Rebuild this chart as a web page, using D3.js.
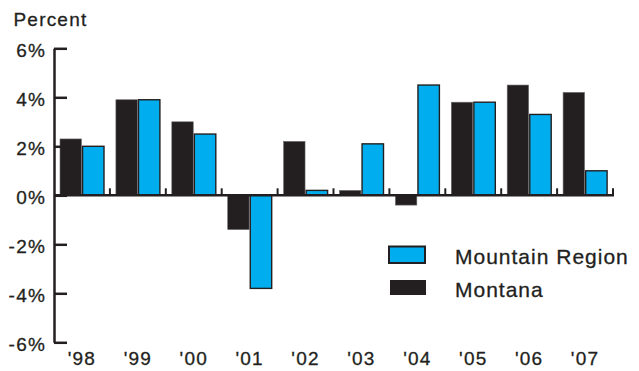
<!DOCTYPE html>
<html>
<head>
<meta charset="utf-8">
<script src="https://cdn.jsdelivr.net/npm/d3@7"></script>
<style>
  html, body { margin: 0; padding: 0; background: #fff; }
  svg text { font-family: "Liberation Sans", Arial, Helvetica, sans-serif; fill: #231f20; stroke: #231f20; stroke-width: 0.3px; }
</style>
</head>
<body>
<svg id="chart" width="639" height="371"></svg>
<script>
// Annual growth, percent
const years = ["'98", "'99", "'00", "'01", "'02", "'03", "'04", "'05", "'06", "'07"];
const montana = [2.3, 3.9, 3.0, -1.4, 2.2, 0.2, -0.4, 3.8, 4.5, 4.2];
const mountainRegion = [2.0, 3.9, 2.5, -3.8, 0.2, 2.1, 4.5, 3.8, 3.3, 1.0];
const seriesNames = ["Montana", "Mountain Region"];
const yTicks = [-6, -4, -2, 0, 2, 4, 6];

const dark = "#231f20";
const blue = "#00aeef";
const colors = { "Montana": dark, "Mountain Region": blue };

const svg = d3.select("#chart");
const plot = { left: 54, right: 613, top: 48.3, bottom: 342.3 };

const x0 = d3.scaleBand().domain(years).range([plot.left, plot.right]).padding(0);
const x1 = d3.scaleBand().domain(seriesNames).range([6, 50]).paddingInner(0.05).paddingOuter(0);
const y = d3.scaleLinear().domain([-6, 6]).range([plot.bottom, plot.top]);

const rows = years.map((yr, i) => ({ year: yr, values: [
  { key: "Montana", value: montana[i] },
  { key: "Mountain Region", value: mountainRegion[i] }
]}));

// bars
const groups = svg.append("g").selectAll("g").data(rows).join("g")
  .attr("transform", d => `translate(${x0(d.year)},0)`);
groups.selectAll("rect").data(d => d.values).join("rect")
  .attr("x", d => x1(d.key))
  .attr("width", x1.bandwidth())
  .attr("y", d => y(Math.max(0, d.value)))
  .attr("height", d => Math.abs(y(d.value) - y(0)))
  .attr("fill", d => colors[d.key])
  .attr("stroke", d => d.key === "Mountain Region" ? dark : "#6d6a6b")
  .attr("stroke-width", d => d.key === "Mountain Region" ? 1.4 : 0.6);

// y axis: ticks point inward
const yAxis = d3.axisLeft(y).tickValues(yTicks).tickFormat(d => d + "%")
  .tickSizeInner(-13).tickSizeOuter(0).tickPadding(8);
const gy = svg.append("g").attr("transform", `translate(${plot.left},0)`).call(yAxis);
gy.select(".domain").attr("stroke", dark).attr("stroke-width", 2.5);
gy.selectAll(".tick line").attr("stroke", dark).attr("stroke-width", 2.5);
gy.selectAll(".tick text")
  .attr("font-size", 19).attr("letter-spacing", 1.2).attr("dy", "0.42em")
  .style("font-family", "'Liberation Sans', Arial, sans-serif").attr("fill", dark);

// zero baseline with small category dividers
svg.append("line")
  .attr("x1", plot.left).attr("x2", plot.right + 1)
  .attr("y1", y(0)).attr("y2", y(0))
  .attr("stroke", dark).attr("stroke-width", 2.5);
svg.append("g").selectAll("line").data(years.slice(1).concat(["end"])).join("line")
  .attr("x1", d => d === "end" ? plot.right : x0(d))
  .attr("x2", d => d === "end" ? plot.right : x0(d))
  .attr("y1", y(0)).attr("y2", y(0) - 7)
  .attr("stroke", dark).attr("stroke-width", 2);

// x axis labels
const xAxis = d3.axisBottom(x0).tickSize(0).tickPadding(9.5);
const gx = svg.append("g").attr("transform", `translate(0,${plot.bottom})`).call(xAxis);
gx.select(".domain").remove();
gx.selectAll(".tick text")
  .attr("font-size", 19).attr("letter-spacing", 1.2)
  .style("font-family", "'Liberation Sans', Arial, sans-serif").attr("fill", dark);

// axis title
svg.append("text").attr("x", 13.5).attr("y", 26)
  .attr("font-size", 19).attr("letter-spacing", 1.2).text("Percent");

// legend
const legendItems = ["Mountain Region", "Montana"];
const lg = svg.append("g").selectAll("g").data(legendItems).join("g")
  .attr("transform", (d, i) => `translate(0,${i * 33})`);
lg.append("rect")
  .attr("x", d => d === "Mountain Region" ? 389 : 390)
  .attr("y", d => d === "Mountain Region" ? 246.5 : 247)
  .attr("width", 36)
  .attr("height", d => d === "Mountain Region" ? 16.5 : 15)
  .attr("fill", d => colors[d])
  .attr("stroke", dark)
  .attr("stroke-width", d => d === "Mountain Region" ? 2 : 0);
lg.append("text").attr("x", 455).attr("y", 264)
  .attr("font-size", 21).attr("letter-spacing", 1.0).text(d => d);
</script>
</body>
</html>
